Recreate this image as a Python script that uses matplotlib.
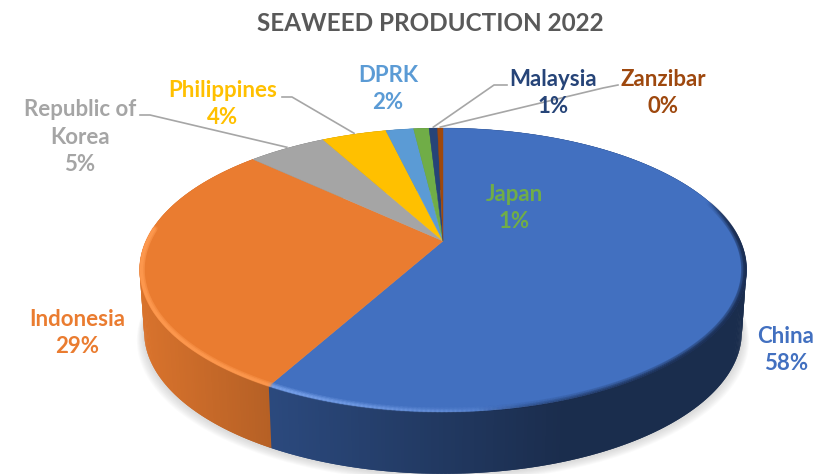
import numpy as np
import matplotlib
matplotlib.use('Agg')
import matplotlib.pyplot as plt
from matplotlib.collections import LineCollection
from matplotlib.colors import to_rgb

countries = ['China', 'Indonesia', 'Republic of\nKorea', 'Philippines', 'DPRK', 'Japan', 'Malaysia', 'Zanzibar']
shares = [58.0, 29.0, 5.1, 4.2, 1.8, 1.0, 0.55, 0.35]
colors = ['#4270C0', '#EA7C30', '#A5A5A5', '#FFC000', '#5B9BD5', '#70AD47', '#264478', '#9E480E']
label_pos = [(786, 350), (77, 333), (80, 137), (223, 104), (388, 89), (514, 208), (553, 93), (663, 93)]

# leader lines for the small slices, label end then elbow, pixels
leaders = {2: [(140, 115), (150, 115)],
           3: [(282, 97), (292, 97)],
           6: [(507, 85), (494, 85)],
           7: [(618, 85), (603, 88)]}

# perspective disc
cx, cy = 443, 241
A, B, k = 297, 136, 0.204
depth = 62
taper = 0.985


def project(theta, r=1.0):
    a = r * np.sin(theta)
    b = -r * np.cos(theta)
    w = 1 - k * b
    return cx + A * a / w, cy + B * b / w


def rim_lines(tt, r, alphas, color, lw):
    x, y = project(tt, r)
    pts = np.column_stack([x, y])
    segs = np.stack([pts[:-1], pts[1:]], axis=1)
    rgba = [to_rgb(color) + (al,) for al in alphas[:-1]]
    ax.add_collection(LineCollection(segs, colors=rgba, linewidths=lw, capstyle='round', zorder=4))


fig = plt.figure(figsize=(8.34, 4.74), dpi=100)
ax = fig.add_axes([0, 0, 1, 1])
ax.set_xlim(0, 834)
ax.set_ylim(474, 0)
ax.axis('off')

plt.rcParams['font.family'] = 'Lato'

edges = np.cumsum([0] + shares) / sum(shares) * 2 * np.pi

# soft shadow under the disc
t = np.linspace(0, 2 * np.pi, 300)
xs, ys = project(t)
for i in range(8):
    s = taper + 0.003 * (8 - i)
    ax.fill(cx + (xs - cx) * s, ys + depth + 1 + (8 - i) * 0.9, color='#808080', alpha=0.035, lw=0, zorder=1)

# side wall, shaded by horizontal position
for i in range(len(shares)):
    tt = np.linspace(edges[i], edges[i + 1], max(3, int(shares[i] * 6)))
    base = np.array(to_rgb(colors[i]))
    step = tt[1] - tt[0]
    for t0, t1 in zip(tt[:-1], tt[1:]):
        x0, y0 = project(t0)
        x1, y1 = project(t1 + step)
        xm = (x0 + x1) / 2
        if i == 0:
            f = max(0.40, 0.65 - (xm - 272) * 0.00086)
        elif i == 1:
            f = 0.92 - (xm - 145) * 0.00118
        else:
            f = 0.7
        ax.fill([x0, x1, cx + (x1 - cx) * taper, cx + (x0 - cx) * taper],
                [y0, y1, y1 + depth, y0 + depth], color=base * f, lw=0, zorder=2)

# top face
for i in range(len(shares)):
    tt = np.linspace(edges[i], edges[i + 1], max(4, int(shares[i] * 8)))
    x, y = project(tt)
    ax.fill(np.r_[cx, x], np.r_[cy, y], color=colors[i], lw=0.3, ec=colors[i], zorder=3)

# bevel on the rim: light towards the left, dark towards the right
bevel = {0: '#7FA8F0', 1: '#FF9A50'}
for i in bevel:
    tt = np.linspace(edges[i], edges[i + 1], 300)
    tt = tt[np.cos(tt) < 0.1]
    x, _ = project(tt)
    fade = np.clip((540 - x) / 260, 0, 1)
    for r, lw, al in [(0.992, 4, 0.18), (0.994, 2.5, 0.3), (0.996, 1.2, 0.4)]:
        rim_lines(tt, r, fade * al, bevel[i], lw)

tt = np.linspace(np.radians(72), edges[1], 300)
x, _ = project(tt)
fade = np.clip((x - 480) / 200, 0, 1) * np.clip((tt - np.radians(72)) / np.radians(15), 0, 1)
for r, lw, al in [(0.992, 4, 0.15), (0.996, 2.5, 0.3), (0.999, 1.2, 0.5)]:
    rim_lines(tt, r, fade * al, '#1B2D50', lw)

# leader lines run from the label to the slice rim
for i, pts in leaders.items():
    mid = (edges[i] + edges[i + 1]) / 2
    rx, ry = project(mid, 1.0)
    px = [p[0] for p in pts] + [rx]
    py = [p[1] for p in pts] + [ry - 1]
    ax.plot(px, py, color='#A6A6A6', lw=1.2, zorder=5)

for i, name in enumerate(countries):
    ax.text(label_pos[i][0], label_pos[i][1], f'{name}\n{shares[i]:.0f}%', color=colors[i], fontsize=16,
            fontweight='bold', ha='center', va='center', linespacing=1.36, zorder=6)

ax.text(430, 23, 'SEAWEED PRODUCTION 2022', color='#595959', fontsize=17.5, fontweight='bold',
        ha='center', va='center', zorder=6)

fig.savefig('out.png', dpi=100)
